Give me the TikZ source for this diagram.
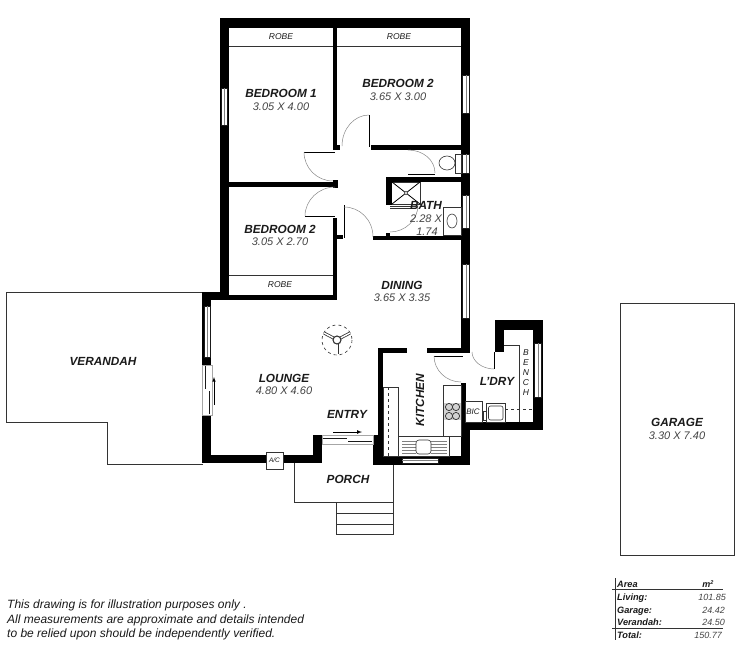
\documentclass[tikz,border=0pt]{standalone}
\usepackage{fontspec}
\setmainfont{Liberation Sans}
\definecolor{ink}{HTML}{1A1A1A}
\definecolor{dimgrey}{HTML}{444444}
\definecolor{linegrey}{HTML}{333333}
\definecolor{swing}{HTML}{888888}
\tikzset{
  wall/.style={fill=black,draw=none},
  thin line/.style={draw=linegrey,line width=0.7pt},
  fixture/.style={draw=linegrey,line width=0.6pt,fill=white},
  swingarc/.style={draw=swing,line width=0.5pt},
  leaf/.style={draw=black,line width=0.9pt},
  glass/.style={draw=ink,line width=0.5pt,fill=white},
  glasslight/.style={draw=gray!70,line width=0.5pt,fill=white},
  pane/.style={draw=gray,line width=0.6pt},
  panedark/.style={draw=ink,line width=1pt},
  blade/.style={double=white,draw=linegrey,line width=0.8pt,double distance=1.4pt},
  room/.style={inner sep=0pt,font=\fontsize{11.8}{12}\selectfont\bfseries\itshape,text=ink},
  dimtext/.style={inner sep=0pt,font=\fontsize{11}{12}\selectfont\itshape,text=dimgrey},
  small/.style={inner sep=0pt,font=\fontsize{8.5}{10}\selectfont\itshape,text=ink},
  note/.style={inner sep=0pt,anchor=base west,font=\fontsize{12}{12}\selectfont\itshape,text=ink},
  tablabel/.style={inner sep=0pt,anchor=base west,font=\fontsize{9.2}{10}\selectfont\bfseries\itshape,text=ink},
  tabvalue/.style={inner sep=0pt,anchor=base east,font=\fontsize{9}{10}\selectfont\itshape,text=dimgrey},
  bench/.style={inner sep=0pt,font=\fontsize{8.5}{10}\selectfont\itshape,text=ink},
}
\begin{document}
\begin{tikzpicture}[x=1pt,y=-1pt]
\useasboundingbox (0,0) rectangle (750,646);
\fill[white] (0,0) rectangle (750,646);

% verandah, porch, garage outlines
\draw[thin line] (202,292) -- (6,292) -- (6,422) -- (107,422) -- (107,464) -- (203,464);
\draw[thin line] (294,463) -- (294,502) -- (393,502) -- (393,463);
\draw[thin line] (336,502) -- (336,534) -- (393,534) -- (393,502);
\draw[thin line] (336,513) -- (393,513) (336,524) -- (393,524);
\draw[thin line] (620,303) rectangle (734,555);

% outer and bedroom walls
\fill[wall] (220,18) rectangle (470,28);
\fill[wall] (220,18) rectangle (229,300);
\fill[wall] (461,18) rectangle (470,240);
\fill[wall] (333,28) rectangle (337,148);
\fill[wall] (333,145) rectangle (340,150);
\fill[wall] (371,145) rectangle (461,150);
\fill[wall] (229,182) rectangle (337,187);
\fill[wall] (333,180) rectangle (338,188);
\fill[wall] (333,218) rectangle (337,299);
\fill[wall] (337,235) rectangle (343,239);
\fill[wall] (220,295) rectangle (337,300);
% bath
\fill[wall] (386,177) rectangle (461,182);
\fill[wall] (386,177) rectangle (392,205);
\fill[wall] (373,236) rectangle (461,240);
\fill[wall] (386,233) rectangle (390,236);
% dining right wall
\fill[wall] (461,240) rectangle (470,353);
% lounge
\fill[wall] (202,292) rectangle (220,300);
\fill[wall] (202,292) rectangle (211,463);
\fill[wall] (202,455) rectangle (322,463);
\fill[wall] (313,435) rectangle (322,463);
% kitchen
\fill[wall] (378,348) rectangle (407,353);
\fill[wall] (427,348) rectangle (470,353);
\fill[wall] (378,348) rectangle (383,456);
\fill[wall] (373,435) rectangle (383,465);
\fill[wall] (373,456) rectangle (470,465);
\fill[wall] (461,383) rectangle (466,422);
\fill[wall] (461,422) rectangle (470,465);
% laundry
\fill[wall] (461,422) rectangle (543,430);
\fill[wall] (495,320) rectangle (543,330);
\fill[wall] (495,320) rectangle (504,352);
\fill[wall] (533,320) rectangle (543,430);

% windows
\draw[glass] (221.5,88) rectangle (227.5,125);
\draw[pane] (224.5,88) -- (224.5,125);
\draw[glass] (462.5,75) rectangle (469.5,113);
\draw[pane] (466,75) -- (466,113);
\draw[glass] (462.5,154) rectangle (469.5,173);
\draw[pane] (466,154) -- (466,173);
\draw[glass] (462.5,195) rectangle (469.5,228);
\draw[pane] (466,195) -- (466,228);
\draw[glass] (462.5,264) rectangle (469.5,318);
\draw[pane] (466,264) -- (466,318);
\draw[glass] (204,306) rectangle (210,357);
\draw[pane] (207,306) -- (207,357);
\draw[glass] (534.5,343) rectangle (541.5,397);
\draw[pane] (538,343) -- (538,397);
\draw[glass] (402,458) rectangle (438,463);
\draw[pane] (402,460.5) -- (438,460.5);

% sliding doors
\draw[glasslight] (202,365) rectangle (212,415);
\draw[panedark] (205,366) -- (205,389);
\draw[panedark] (209,391) -- (209,414);
\draw[-latex,line width=0.6pt] (214,405) -- (214,377);
\draw[glasslight] (322,435) rectangle (373,444);
\draw[panedark] (323,438) -- (347,438);
\draw[panedark] (348,441) -- (372,441);
\draw[-latex,line width=0.7pt] (333,432) -- (362,432);

% robe lines
\draw[thin line] (229,46) -- (333,46) (337,46) -- (461,46);
\draw[thin line] (229,275) -- (333,275);

% doors
\draw[leaf] (369,115) -- (369,147);
\draw[swingarc] (369,115) .. controls (354,115) and (342,129) .. (342,146);
\draw[leaf] (304,152) -- (335,152);
\draw[swingarc] (304,152) .. controls (304,168) and (317,181) .. (333,181);
\draw[leaf] (305,216) -- (335,216);
\draw[swingarc] (305,216) .. controls (305,200) and (319,187) .. (335,187);
\draw[leaf] (344,205) -- (344,238);
\draw[swingarc] (344,207) .. controls (360,207) and (373,220) .. (373,237);
\draw[leaf] (408,174) -- (435,174);
\draw[swingarc] (408,150) .. controls (423,150) and (435,160) .. (435,173);
\draw[thin line] (390,206) -- (416,206) (390,208) -- (416,208);
\draw[swingarc] (418,205) .. controls (418,220) and (405,232) .. (390,232);
\draw[leaf] (434,356) -- (463,356);
\draw[swingarc] (434,356) .. controls (434,370) and (446,382) .. (461,382);
\draw[leaf] (494,352) -- (494,369);
\draw[swingarc] (472,352) .. controls (472,361) and (482,369) .. (494,369);

% shower
\draw[thin line] (392,182) -- (420,182) -- (420,204) -- (392,204);
\draw[line width=0.8pt] (392,182) -- (420,204) (420,182) -- (392,204);
\draw[fixture] (406,193) circle (1.8);

% toilet and vanity
\draw[fixture] (447,163) ellipse (8 and 7);
\draw[fixture] (455,154) rectangle (461,173);
\draw[fixture] (443,207) rectangle (461,235);
\draw[fixture] (452,221) ellipse (5 and 7);

% kitchen fittings
\draw[fixture] (383,387) rectangle (398,456);
\draw[thin line,dashed] (388,387) -- (388,456);
\draw[fixture] (398,436) rectangle (449,456);
\foreach \yy in {441,444,447,450,453} {
  \draw[draw=gray,line width=0.6pt] (402,\yy) -- (416,\yy) (431,\yy) -- (447,\yy);
}
\draw[fixture,rounded corners=3pt] (416,440) rectangle (431,454);
\draw[fixture] (443,385) rectangle (461,436);
\fill[gray!35] (444,403) rectangle (461,420);
\foreach \xx in {449,456} { \foreach \yy in {407,416} {
  \draw[thin line] (\xx,\yy) circle (3.6);
}}
% laundry fittings
\draw[thin line] (504,345) -- (519,345) -- (519,422);
\draw[fixture] (465,401) rectangle (482,422);
\draw[fixture] (486,403) rectangle (505,422);
\draw[fixture,rounded corners=2pt] (488.5,406) rectangle (503,420);
\draw[fixture] (483,411) rectangle (486,420);
\draw[thin line,dashed,line width=0.8pt] (505,409) -- (533,409);

% ceiling fan
\draw[thin line,dashed,line width=0.6pt] (337,340) circle (15);
\draw[blade] (337,344) -- (337,354);
\draw[blade] (333.5,338) -- (324,333);
\draw[blade] (340.5,338) -- (350,333);
\draw[fixture,line width=1.1pt] (337,340) circle (4);

% A/C box
\draw[fixture] (266,452) rectangle (283,469);
\node[inner sep=0pt,font=\fontsize{6.5}{7}\selectfont\itshape,text=ink] (actext) at (274.5,460.5) {A/C};

% room labels
\node[small] (robea) at (281,37) {ROBE};
\node[small] (robeb) at (399,37) {ROBE};
\node[small] (robec) at (280,285) {ROBE};
\node[room] (beda) at (281,93) {BEDROOM 1};
\node[dimtext] (bedad) at (281,106.5) {3.05 X 4.00};
\node[room] (bedb) at (398,83) {BEDROOM 2};
\node[dimtext] (bedbd) at (398,97) {3.65 X 3.00};
\node[room] (bedc) at (280,229) {BEDROOM 2};
\node[dimtext] (bedcd) at (280,242) {3.05 X 2.70};
\node[room] (bath) at (426,205) {BATH};
\node[dimtext] (bathd) at (426,219) {2.28 X};
\node[dimtext] (bathe) at (427,232) {1.74};
\node[room] (dining) at (402,285) {DINING};
\node[dimtext] (diningd) at (402,298) {3.65 X 3.35};
\node[room] (verandah) at (103,361) {VERANDAH};
\node[room] (lounge) at (284,378) {LOUNGE};
\node[dimtext] (lounged) at (284,391) {4.80 X 4.60};
\node[room] (entry) at (347,414) {ENTRY};
\node[room] (porch) at (348,479) {PORCH};
\node[room,rotate=90] (kitchen) at (420,400) {KITCHEN};
\node[room] (ldry) at (497,381) {L'DRY};
\node[inner sep=0pt,font=\fontsize{8}{9}\selectfont\itshape,text=ink] (bic) at (473,412) {BIC};
\node[bench] (bencha) at (526,353) {B};
\node[bench] (benchb) at (526,363) {E};
\node[bench] (benchc) at (526,373) {N};
\node[bench] (benchd) at (526,383) {C};
\node[bench] (benche) at (526,393) {H};
\node[room] (garage) at (677,422) {GARAGE};
\node[dimtext] (garaged) at (677,436) {3.30 X 7.40};

% footnote
\node[note] (notea) at (7,608) {This drawing is for illustration purposes only .};
\node[note] (noteb) at (7,623) {All measurements are approximate and details intended};
\node[note] (notec) at (7,637) {to be relied upon should be independently verified.};

% area table
\draw[line width=0.8pt,draw=linegrey] (615,578) -- (615,640);
\draw[line width=0.8pt,draw=linegrey] (612,589) -- (723,589) (612,628) -- (723,628);
\node[tablabel] (ta) at (617,587) {Area};
\node[tablabel] (tb) at (617,600) {Living:};
\node[tablabel] (tc) at (617,613) {Garage:};
\node[tablabel] (td) at (617,625) {Verandah:};
\node[tablabel] (te) at (617,638) {Total:};
\node[inner sep=0pt,anchor=base,font=\fontsize{9}{10}\selectfont\bfseries\itshape,text=ink] (vunit) at (708,587) {m\raisebox{3pt}{\fontsize{5.5}{6}\selectfont 2}};
\node[tabvalue] (vb) at (726,600) {101.85};
\node[tabvalue] (vc) at (725,613) {24.42};
\node[tabvalue] (vd) at (725,625) {24.50};
\node[tabvalue] (ve) at (722,638) {150.77};
\end{tikzpicture}
\end{document}
